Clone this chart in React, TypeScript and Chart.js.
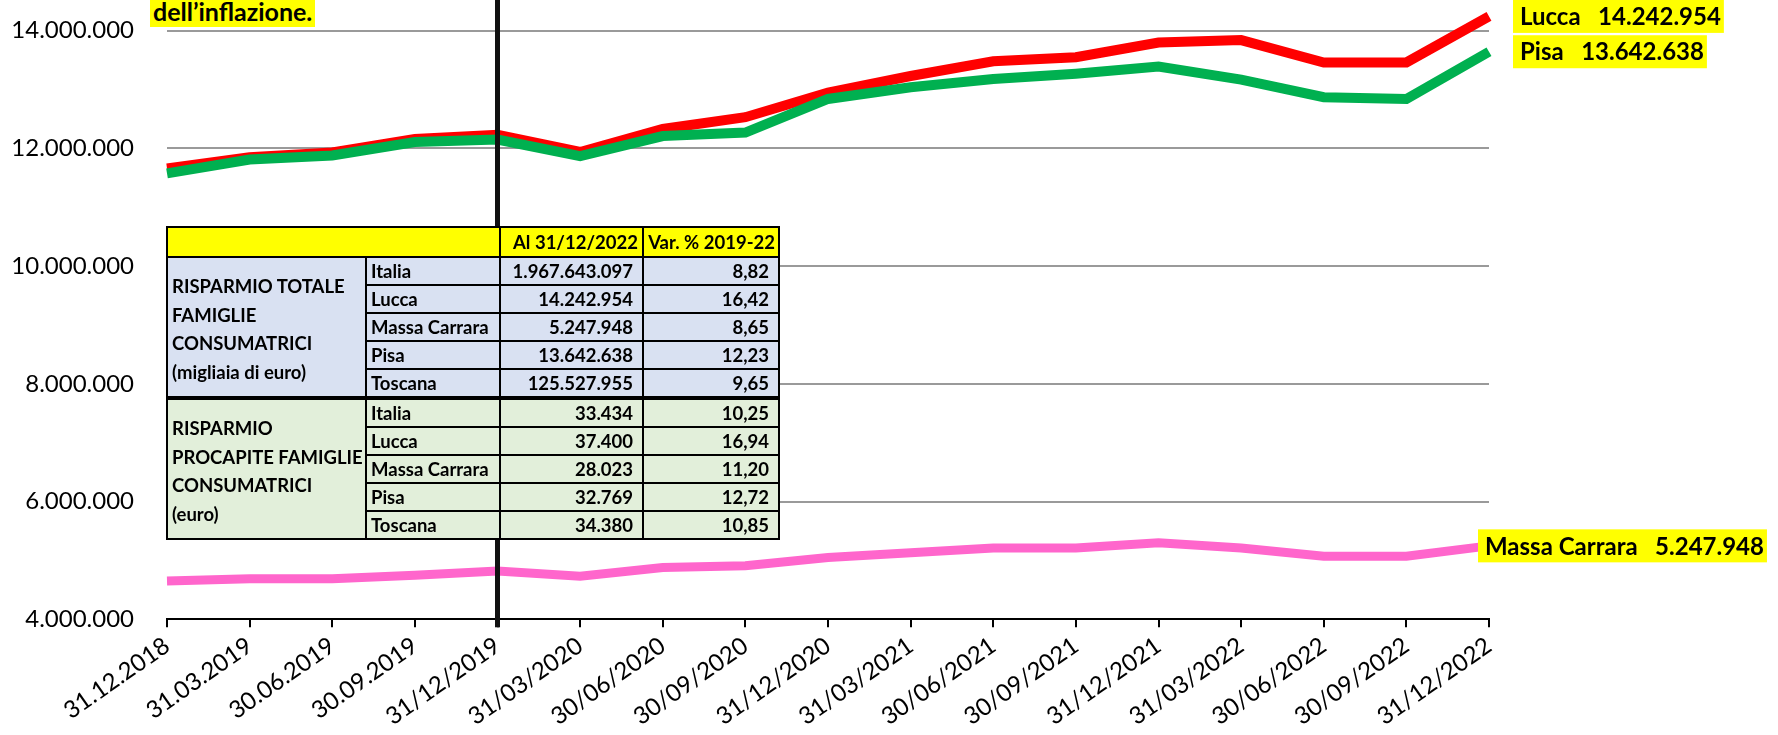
import React, { useEffect, useRef } from "react";
import { Chart, registerables } from "chart.js";

Chart.register(...registerables);

// ---------- DATA ----------
const categories = [
  "31.12.2018", "31.03.2019", "30.06.2019", "30.09.2019", "31/12/2019",
  "31/03/2020", "30/06/2020", "30/09/2020", "31/12/2020", "31/03/2021",
  "30/06/2021", "30/09/2021", "31/12/2021", "31/03/2022", "30/06/2022",
  "30/09/2022", "31/12/2022",
];
const lucca = [
  11660000, 11850000, 11930000, 12160000, 12230000, 11940000, 12330000, 12530000,
  12950000, 13230000, 13480000, 13550000, 13800000, 13840000, 13460000, 13460000, 14242954,
];
const pisa = [
  11575000, 11810000, 11880000, 12110000, 12150000, 11870000, 12210000, 12270000,
  12840000, 13040000, 13180000, 13270000, 13390000, 13170000, 12870000, 12840000, 13642638,
];
const massaCarrara = [
  4650000, 4690000, 4690000, 4750000, 4820000, 4730000, 4880000, 4910000,
  5050000, 5130000, 5210000, 5210000, 5300000, 5210000, 5070000, 5070000, 5247948,
];
const yMin = 4000000;
const yMax = 14000000;
const yStep = 2000000;
const markerCategory = "31/12/2019";
const titleTail = "dell’inflazione.";

const tableRegions = ["Italia", "Lucca", "Massa Carrara", "Pisa", "Toscana"];
const totalSavings = [1967643097, 14242954, 5247948, 13642638, 125527955];
const totalSavingsVar = [8.82, 16.42, 8.65, 12.23, 9.65];
const perCapitaSavings = [33434, 37400, 28023, 32769, 34380];
const perCapitaVar = [10.25, 16.94, 11.2, 12.72, 10.85];
const tableHeaders = ["Al 31/12/2022", "Var. % 2019-22"];
const groupTotalLines = ["RISPARMIO TOTALE", "FAMIGLIE", "CONSUMATRICI", "(migliaia di euro)"];
const groupPerCapitaLines = ["RISPARMIO", "PROCAPITE FAMIGLIE", "CONSUMATRICI", "(euro)"];

// ---------- HELPERS ----------
const fmtInt = (n: number) => String(Math.round(n)).replace(/\B(?=(\d{3})+(?!\d))/g, ".");
const fmtDec = (n: number) => n.toFixed(2).replace(".", ",");
const last = (a: number[]) => a[a.length - 1];

const FONT = "Lato, 'Open Sans', sans-serif";

const endLabelsPlugin = {
  id: "endLabels",
  afterDatasetsDraw(chart: any) {
    const { ctx, chartArea, scales } = chart;
    const x = scales.x;
    const y = scales.y;
    // vertical marker line
    const mx = x.getPixelForValue(categories.indexOf(markerCategory));
    ctx.save();
    ctx.fillStyle = "#111111";
    ctx.fillRect(mx - 2.5, 0, 5, chartArea.bottom + 8);

    const items = [
      { text: `Lucca   ${fmtInt(last(lucca))}`, value: last(lucca), dx: 24 },
      { text: `Pisa   ${fmtInt(last(pisa))}`, value: last(pisa), dx: 24 },
      { text: `Massa Carrara   ${fmtInt(last(massaCarrara))}`, value: last(massaCarrara), dx: -11 },
    ];
    ctx.font = `bold 24px ${FONT}`;
    ctx.textBaseline = "middle";
    ctx.textAlign = "left";
    for (const it of items) {
      const cy = y.getPixelForValue(it.value);
      const w = ctx.measureText(it.text).width;
      const x0 = chartArea.right + it.dx;
      ctx.fillStyle = "#FFFF00";
      ctx.fillRect(x0, cy - 16.5, w + 10, 33);
      ctx.fillStyle = "#000000";
      ctx.fillText(it.text, x0 + 7, cy + 1);
    }
    ctx.restore();
  },
};

function SavingsTable() {
  const cellBase: React.CSSProperties = {
    border: "2px solid #000",
    padding: "0 4px",
    height: 26,
    fontWeight: 700,
    whiteSpace: "nowrap",
    lineHeight: "20px",
  };
  const num: React.CSSProperties = { ...cellBase, textAlign: "right", paddingRight: 9 };
  const thick = "4px solid #000";
  const rows = (
    group: string[],
    values: number[],
    vars: number[],
    bg: string,
    thickTop: boolean
  ) =>
    tableRegions.map((r, i) => {
      const bt = thickTop && i === 0 ? thick : cellBase.border;
      return (
        <tr key={r} style={{ background: bg }}>
          {i === 0 && (
            <td
              rowSpan={5}
              style={{
                ...cellBase,
                borderTop: bt,
                verticalAlign: "middle",
                lineHeight: "28.5px",
                paddingTop: 4,
              }}
            >
              {group.map((g, k) => (
                <div key={k}>{g}</div>
              ))}
            </td>
          )}
          <td style={{ ...cellBase, borderTop: bt }}>{r}</td>
          <td style={{ ...num, borderTop: bt }}>{fmtInt(values[i])}</td>
          <td style={{ ...num, borderTop: bt }}>{fmtDec(vars[i])}</td>
        </tr>
      );
    });
  return (
    <table
      style={{
        position: "absolute",
        left: 166,
        top: 226,
        borderCollapse: "collapse",
        tableLayout: "fixed",
        width: 612,
        fontFamily: FONT,
        fontSize: 18.5,
        color: "#000",
      }}
    >
      <colgroup>
        <col style={{ width: 199 }} />
        <col style={{ width: 134 }} />
        <col style={{ width: 143 }} />
        <col style={{ width: 136 }} />
      </colgroup>
      <tbody>
        <tr style={{ background: "#FFFF00" }}>
          <td colSpan={2} style={{ ...cellBase, height: 28 }}></td>
          <td style={{ ...cellBase, height: 28, textAlign: "right", padding: "0 4px" }}>{tableHeaders[0]}</td>
          <td style={{ ...cellBase, height: 28, textAlign: "right", padding: "0 3px" }}>{tableHeaders[1]}</td>
        </tr>
        {rows(groupTotalLines, totalSavings, totalSavingsVar, "#D9E1F2", false)}
        {rows(groupPerCapitaLines, perCapitaSavings, perCapitaVar, "#E2EFDA", true)}
      </tbody>
    </table>
  );
}

export default function App() {
  const canvasRef = useRef<HTMLCanvasElement | null>(null);

  useEffect(() => {
    const canvas = canvasRef.current;
    if (!canvas) return;
    const yTicks: number[] = [];
    for (let v = yMin; v <= yMax; v += yStep) yTicks.push(v);

    const chart = new Chart(canvas, {
      type: "line",
      data: {
        labels: categories,
        datasets: [
          {
            label: "Pisa",
            data: pisa,
            borderColor: "#00B050",
            backgroundColor: "#00B050",
            borderWidth: 10,
            pointRadius: 0,
            tension: 0,
            clip: false as any,
          },
          {
            label: "Lucca",
            data: lucca,
            borderColor: "#FF0000",
            backgroundColor: "#FF0000",
            borderWidth: 10,
            pointRadius: 0,
            tension: 0,
            clip: false as any,
          },
          {
            label: "Massa Carrara",
            data: massaCarrara,
            borderColor: "#FF66CC",
            backgroundColor: "#FF66CC",
            borderWidth: 9,
            pointRadius: 0,
            tension: 0,
            clip: false as any,
          },
        ],
      },
      options: {
        responsive: false,
        animation: false,
        devicePixelRatio: 1,
        layout: { padding: { top: 30.7, right: 289, bottom: 0, left: 0 } },
        plugins: {
          legend: { display: false },
          tooltip: { enabled: false },
          title: { display: false },
        },
        scales: {
          x: {
            type: "category",
            offset: false,
            grid: {
              display: true,
              drawOnChartArea: false,
              drawTicks: true,
              tickLength: 8,
              color: "#000",
              lineWidth: 2,
            },
            border: { display: true, color: "#000", width: 2 },
            ticks: {
              autoSkip: false,
              maxRotation: 35,
              minRotation: 35,
              color: "#000",
              padding: 4,
              font: { family: FONT, size: 24 },
            },
            afterFit: (s: any) => {
              s.height = 735 - 619.3;
              s.paddingLeft = 0;
              s.paddingRight = 0;
            },
          },
          y: {
            min: yMin,
            max: yMax,
            grid: {
              color: "#9a9a9a",
              lineWidth: 2,
              drawTicks: false,
            },
            border: { display: false },
            afterBuildTicks: (s: any) => {
              s.ticks = yTicks.map((v) => ({ value: v }));
            },
            ticks: {
              color: "#000",
              padding: 33,
              font: { family: FONT, size: 24 },
              callback: (v: any) => fmtInt(Number(v)),
            },
            afterFit: (s: any) => {
              s.width = 167;
              s.paddingTop = 0;
              s.paddingBottom = 0;
            },
          },
        },
      },
      plugins: [endLabelsPlugin],
    });
    return () => chart.destroy();
  }, []);

  return (
    <div
      style={{
        position: "fixed",
        left: 0,
        top: 0,
        width: 1778,
        height: 735,
        background: "#fff",
        overflow: "hidden",
      }}
    >
      <canvas ref={canvasRef} width={1778} height={735} style={{ width: 1778, height: 735, display: "block" }} />
      <div
        style={{
          position: "absolute",
          left: 150,
          top: 0,
          height: 27,
          padding: "0 3px",
          background: "#FFFF00",
          fontFamily: FONT,
          fontWeight: 700,
          fontSize: 25,
          lineHeight: "22px",
          color: "#000",
          whiteSpace: "nowrap",
        }}
      >
        {titleTail}
      </div>
      <SavingsTable />
    </div>
  );
}
